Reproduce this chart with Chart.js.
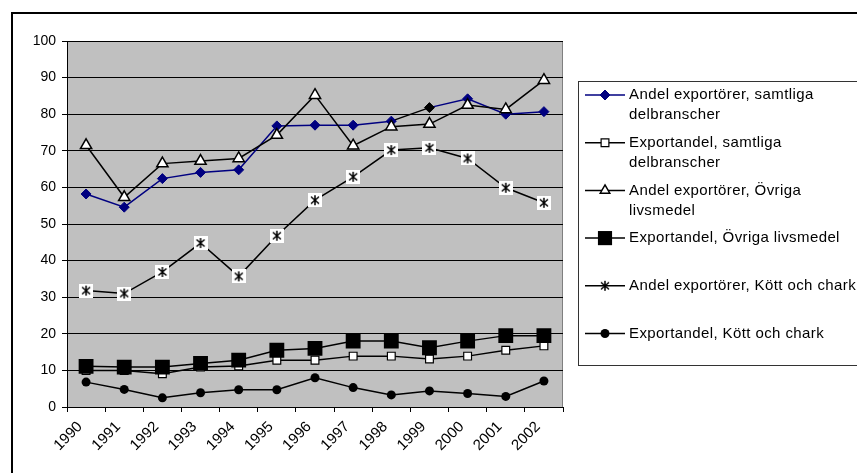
<!DOCTYPE html>
<html>
<head>
<meta charset="utf-8">
<script src="https://cdn.jsdelivr.net/npm/chart.js@4.4.1/dist/chart.umd.min.js"></script>
<style>
  html, body { margin: 0; padding: 0; background: #fff; }
  #wrap { width: 857px; height: 473px; position: relative; }
</style>
</head>
<body>
<div id="wrap"><canvas id="c" width="857" height="473"></canvas></div>
<script>
// Years on the category axis
const years = ['1990','1991','1992','1993','1994','1995','1996','1997','1998','1999','2000','2001','2002'];

// Share of exporting firms / export share (percent)
const andelExportorerSamtliga = [58.2, 54.6, 62.4, 64.1, 64.8, 76.8, 77.0, 77.0, 78.1, 81.8, 84.2, 80.0, 80.7];
const exportandelSamtliga     = [10.0, 10.0, 9.1, 10.9, 11.2, 12.8, 12.8, 13.9, 13.9, 13.1, 13.9, 15.5, 16.7];
const andelExportorerOvriga   = [71.5, 57.3, 66.5, 67.2, 67.9, 74.3, 85.2, 71.4, 76.6, 77.3, 82.5, 81.3, 89.3];
const exportandelOvriga       = [11.1, 10.9, 10.9, 11.9, 12.8, 15.5, 16.0, 18.0, 18.0, 16.2, 18.0, 19.5, 19.5];
const andelExportorerKott     = [31.8, 31.0, 36.9, 44.8, 35.7, 46.8, 56.5, 62.9, 70.2, 70.8, 67.9, 59.9, 55.8];
const exportandelKott         = [6.8, 4.8, 2.5, 3.9, 4.7, 4.7, 8.0, 5.3, 3.3, 4.4, 3.7, 2.9, 7.1];

// Legend text, split into the lines it is printed on
const legendLines = [
  ['Andel exportörer, samtliga', 'delbranscher'],
  ['Exportandel, samtliga', 'delbranscher'],
  ['Andel exportörer, Övriga', 'livsmedel'],
  ['Exportandel, Övriga livsmedel'],
  ['Andel exportörer, Kött och chark'],
  ['Exportandel, Kött och chark']
];

// Y-axis range
const yMin = 0, yMax = 100, yStep = 10;

const FONT = "'Liberation Sans', Arial, sans-serif";
const NAVY = '#000080';

// Star marker: white box with a vertical stroke and an X
function makeStar(box) {
  const s = 14;
  const cv = document.createElement('canvas');
  cv.width = s; cv.height = s;
  const g = cv.getContext('2d');
  if (box) { g.fillStyle = '#fff'; g.fillRect(0, 0, s, s); }
  g.strokeStyle = '#000';
  g.lineWidth = 1.5;
  g.beginPath();
  g.moveTo(7, 2); g.lineTo(7, 12);
  g.moveTo(3, 3.5); g.lineTo(11, 10.5);
  g.moveTo(11, 3.5); g.lineTo(3, 10.5);
  g.stroke();
  return cv;
}
const starImg = makeStar(true);
const starLegend = makeStar(false);

// Point 1999 of the first series is printed in black
const navyPointColors = years.map((y, i) => i === 9 ? '#000' : NAVY);

const datasets = [
  {
    label: legendLines[0].join(' '), data: andelExportorerSamtliga,
    borderColor: NAVY, borderWidth: 1.5,
    segment: { borderColor: c => c.p1DataIndex === 9 ? '#000' : NAVY },
    pointStyle: 'rectRot', pointRadius: 5,
    pointBackgroundColor: navyPointColors, pointBorderColor: navyPointColors, pointBorderWidth: 1
  },
  {
    label: legendLines[1].join(' '), data: exportandelSamtliga,
    borderColor: '#000', borderWidth: 1.5,
    pointStyle: 'rect', pointRadius: 5.5,
    pointBackgroundColor: '#fff', pointBorderColor: '#000', pointBorderWidth: 1.2
  },
  {
    label: legendLines[2].join(' '), data: andelExportorerOvriga,
    borderColor: '#000', borderWidth: 1.5,
    pointStyle: 'triangle', pointRadius: 6.5,
    pointBackgroundColor: '#fff', pointBorderColor: '#000', pointBorderWidth: 1.5
  },
  {
    label: legendLines[3].join(' '), data: exportandelOvriga,
    borderColor: '#000', borderWidth: 1.5,
    pointStyle: 'rect', pointRadius: 10.5,
    pointBackgroundColor: '#000', pointBorderColor: '#000', pointBorderWidth: 0
  },
  {
    label: legendLines[4].join(' '), data: andelExportorerKott,
    borderColor: '#000', borderWidth: 1.5,
    pointStyle: starImg, pointRadius: 7
  },
  {
    label: legendLines[5].join(' '), data: exportandelKott,
    borderColor: '#000', borderWidth: 1.5,
    pointStyle: 'circle', pointRadius: 4.5,
    pointBackgroundColor: '#000', pointBorderColor: '#000', pointBorderWidth: 0
  }
];
// later series are painted on top
datasets.forEach((d, i) => { d.order = datasets.length - i; d.tension = 0; d.fill = false; });

const frame = {
  id: 'frame',
  beforeDraw(chart) {
    const { ctx, chartArea: a } = chart;
    ctx.save();
    ctx.fillStyle = '#fff';
    ctx.fillRect(0, 0, chart.width, chart.height);
    ctx.strokeStyle = '#000';
    ctx.lineWidth = 2;
    ctx.strokeRect(12, 13, chart.width + 20, chart.height + 20);
    ctx.fillStyle = '#c0c0c0';
    ctx.fillRect(a.left, a.top, a.right - a.left, a.bottom - a.top);
    ctx.strokeStyle = '#808080';
    ctx.lineWidth = 1;
    ctx.strokeRect(a.left + 0.5, a.top + 0.5, a.right - a.left - 1, a.bottom - a.top);
    ctx.restore();
  },
  afterDraw(chart) {
    const ctx = chart.ctx;
    ctx.save();
    // legend box
    ctx.fillStyle = '#fff';
    ctx.fillRect(578.5, 81.5, 300, 284);
    ctx.strokeStyle = '#333';
    ctx.lineWidth = 1;
    ctx.strokeRect(578.5, 81.5, 300, 284);
    const x0 = 585, x1 = 625, tx = 629;
    chart.data.datasets.forEach((d, i) => {
      const y = 95 + i * 47.7;
      ctx.strokeStyle = i === 0 ? NAVY : '#000';
      ctx.lineWidth = 1.5;
      ctx.beginPath();
      ctx.moveTo(x0, y); ctx.lineTo(x1, y);
      ctx.stroke();
      const cx = (x0 + x1) / 2;
      let style = d.pointStyle;
      let r = d.pointRadius;
      if (style === starImg) { ctx.drawImage(starLegend, cx - 7, y - 7); }
      else {
        if (i === 2) r = 5.5;
        if (i === 3) r = 10;
        if (i === 1) r = 5.5;
        ctx.fillStyle = i === 0 ? NAVY : (typeof d.pointBackgroundColor === 'string' ? d.pointBackgroundColor : '#000');
        ctx.strokeStyle = i === 0 ? NAVY : '#000';
        ctx.lineWidth = d.pointBorderWidth || 0.01;
        Chart.helpers.drawPoint(ctx, { pointStyle: style, radius: r, borderWidth: d.pointBorderWidth || 0, rotation: 0 }, cx, y);
      }
      ctx.fillStyle = '#000';
      ctx.font = '15px ' + FONT;
      ctx.letterSpacing = '0.4px';
      ctx.textBaseline = 'middle';
      ctx.textAlign = 'left';
      legendLines[i].forEach((ln, k) => ctx.fillText(ln, tx, y + k * 20));
      ctx.letterSpacing = '0px';
    });
    ctx.restore();
  }
};

new Chart(document.getElementById('c'), {
  type: 'line',
  data: { labels: years, datasets },
  options: {
    responsive: false,
    animation: false,
    devicePixelRatio: 1,
    layout: { padding: { top: 41, right: 294, left: 0, bottom: 0 } },
    plugins: { legend: { display: false }, tooltip: { enabled: false } },
    scales: {
      x: {
        type: 'category',
        offset: true,
        afterFit: s => { s.height = 66; },
        grid: { offset: true, drawOnChartArea: false, tickLength: 5, color: '#000', lineWidth: 1 },
        border: { display: true, color: '#000', width: 1 },
        ticks: { autoSkip: false, maxRotation: 45, minRotation: 45, padding: 6, labelOffset: -6, color: '#000', font: { family: FONT, size: 15 } }
      },
      y: {
        min: yMin, max: yMax,
        afterFit: s => { s.width = 67; },
        grid: { color: '#000', lineWidth: 1, tickLength: 5 },
        border: { display: true, color: '#000', width: 1 },
        ticks: { stepSize: yStep, padding: 6, color: '#000', font: { family: FONT, size: 14 } }
      }
    }
  },
  plugins: [frame]
});
</script>
</body>
</html>
